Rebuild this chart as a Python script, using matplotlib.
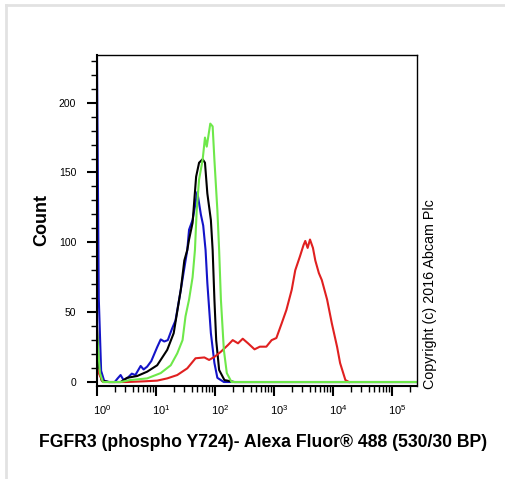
import numpy as np
import matplotlib
matplotlib.use("Agg")
import matplotlib.pyplot as plt
import matplotlib.transforms as mtransforms
from matplotlib.ticker import LogLocator, LogFormatterMathtext, MultipleLocator, NullFormatter
from matplotlib.lines import Line2D

plt.rcParams['font.family'] = ['Liberation Sans', 'DejaVu Sans']

# histogram traces, x given as log10 of fluorescence, y as counts
blue_logx = [0.0, 0.03, 0.07, 0.12, 0.2, 0.3, 0.35, 0.40, 0.45, 0.52, 0.59, 0.65, 0.74, 0.79, 0.85,
             0.92, 1.02, 1.08, 1.14, 1.20, 1.27, 1.33, 1.42, 1.53, 1.56, 1.62, 1.67, 1.70, 1.73,
             1.76, 1.80, 1.84, 1.87, 1.93, 1.99, 2.04, 2.15, 5.42]
blue_cnt = [232, 60, 8, 1, 0, 0, 2.6, 5, 1.4, 3, 6, 5, 11.5, 9, 11,
            15, 25, 30.5, 29, 30, 38, 44, 66, 94.5, 109, 116, 128, 136, 128,
            120, 112, 94.5, 71, 35, 13.6, 3, 0, 0]

black_logx = [0.0, 0.03, 0.08, 0.2, 0.4, 0.51, 0.68, 0.85, 1.02, 1.19, 1.30, 1.42, 1.48, 1.53, 1.56,
              1.62, 1.68, 1.73, 1.79, 1.83, 1.87, 1.93, 1.96, 1.99, 2.02, 2.07, 2.16, 2.33, 5.42]
black_cnt = [40, 10, 1, 0, 0, 3, 4.3, 7.4, 12, 23, 35, 66, 87, 94.5, 102,
             114, 147, 157, 159.5, 157, 135, 116, 94.5, 59, 30, 8.6, 1.4, 0, 0]

green_logx = [0.0, 0.05, 0.1, 0.4, 0.56, 0.85, 1.08, 1.25, 1.36, 1.45, 1.50, 1.56, 1.62, 1.66, 1.69,
              1.73, 1.79, 1.83, 1.86, 1.92, 1.96, 1.99, 2.04, 2.07, 2.10, 2.15, 2.2, 2.28, 5.42]
green_cnt = [35, 6.4, 0, 0, 1.4, 2.6, 6.4, 12, 20.5, 30, 47, 59, 75, 94.5, 123,
             145, 159, 175, 168.5, 185, 183, 159, 123, 94.5, 59, 23, 6.4, 0, 0]

red_logx = [0.0, 0.03, 0.1, 0.5, 0.8, 1.02, 1.19, 1.36, 1.53, 1.67, 1.82, 1.90, 1.99, 2.10, 2.22,
            2.30, 2.39, 2.47, 2.56, 2.67, 2.76, 2.87, 2.96, 3.04, 3.13, 3.21, 3.30, 3.36, 3.44,
            3.50, 3.53, 3.57, 3.61, 3.66, 3.70, 3.76, 3.81, 3.90, 3.98, 4.07, 4.12, 4.21, 4.27]
red_cnt = [10, 6.4, 0, 0, 0.5, 1, 2.6, 5, 9.8, 17, 17.6, 15.8, 18, 21.7, 26.5,
           30, 27.7, 31, 27.7, 23.4, 25.3, 25.3, 30, 31.5, 42, 51.6, 66, 80, 90,
           98, 101, 96, 102, 96, 87, 78, 73, 59, 42, 25, 13.6, 1.4, 0]

x_label = "FGFR3 (phospho Y724)- Alexa Fluor\u00ae 488 (530/30 BP)"
y_label = "Count"
copyright_text = "Copyright (c) 2016 Abcam Plc"

fig = plt.figure(figsize=(5.06, 4.79), dpi=100)
ax = fig.add_axes([0.1917, 0.194, 0.632, 0.692])

# light gray frame edge at top and left of the picture
fig.add_artist(Line2D([0.011, 0.011], [0.0, 0.989], transform=fig.transFigure, color="#e2e2e2", lw=2))
fig.add_artist(Line2D([0.011, 1.0], [0.989, 0.989], transform=fig.transFigure, color="#e2e2e2", lw=2))

traces = [(blue_logx, blue_cnt, "#1414c8"),
          (black_logx, black_cnt, "#000000"),
          (red_logx, red_cnt, "#e02020"),
          (green_logx, green_cnt, "#6ee84a")]
for lx, cnt, col in traces:
    ax.plot(10 ** np.array(lx), cnt, color=col, lw=1.5, solid_joinstyle="round")

ax.set_xscale("log")
ax.set_xlim(1, 10 ** 5.42)
ax.set_ylim(-2.9, 234.4)

ax.xaxis.set_major_locator(LogLocator(base=10, numticks=10))
ax.xaxis.set_major_formatter(LogFormatterMathtext())
ax.xaxis.set_minor_locator(LogLocator(base=10, subs=np.arange(2, 10), numticks=20))
ax.xaxis.set_minor_formatter(NullFormatter())
ax.yaxis.set_major_locator(MultipleLocator(50))
ax.yaxis.set_minor_locator(MultipleLocator(10))

ax.tick_params(which="major", direction="out", length=7, width=1.5, labelsize=7.5)
ax.tick_params(which="minor", direction="out", length=4, width=1)
ax.tick_params(axis="x", pad=5, labelsize=8)
ax.tick_params(axis="y", pad=8)

# x labels sit a little to the right of their ticks
shift = mtransforms.ScaledTranslation(5 / 100, 0, fig.dpi_scale_trans)
for lab in ax.get_xticklabels():
    lab.set_transform(lab.get_transform() + shift)

for side in ["left", "bottom"]:
    ax.spines[side].set_linewidth(1.5)
for side in ["top", "right"]:
    ax.spines[side].set_linewidth(1.0)

ax.set_ylabel(y_label, fontsize=13, fontweight="bold", labelpad=6)
ax.set_xlabel(x_label, fontsize=12.7, fontweight="bold")
ax.xaxis.set_label_coords(0.52, -0.145)

fig.text(0.849, 0.386, copyright_text, rotation=90, fontsize=10.3, ha="center", va="center")

fig.savefig("out.png", dpi=100)
